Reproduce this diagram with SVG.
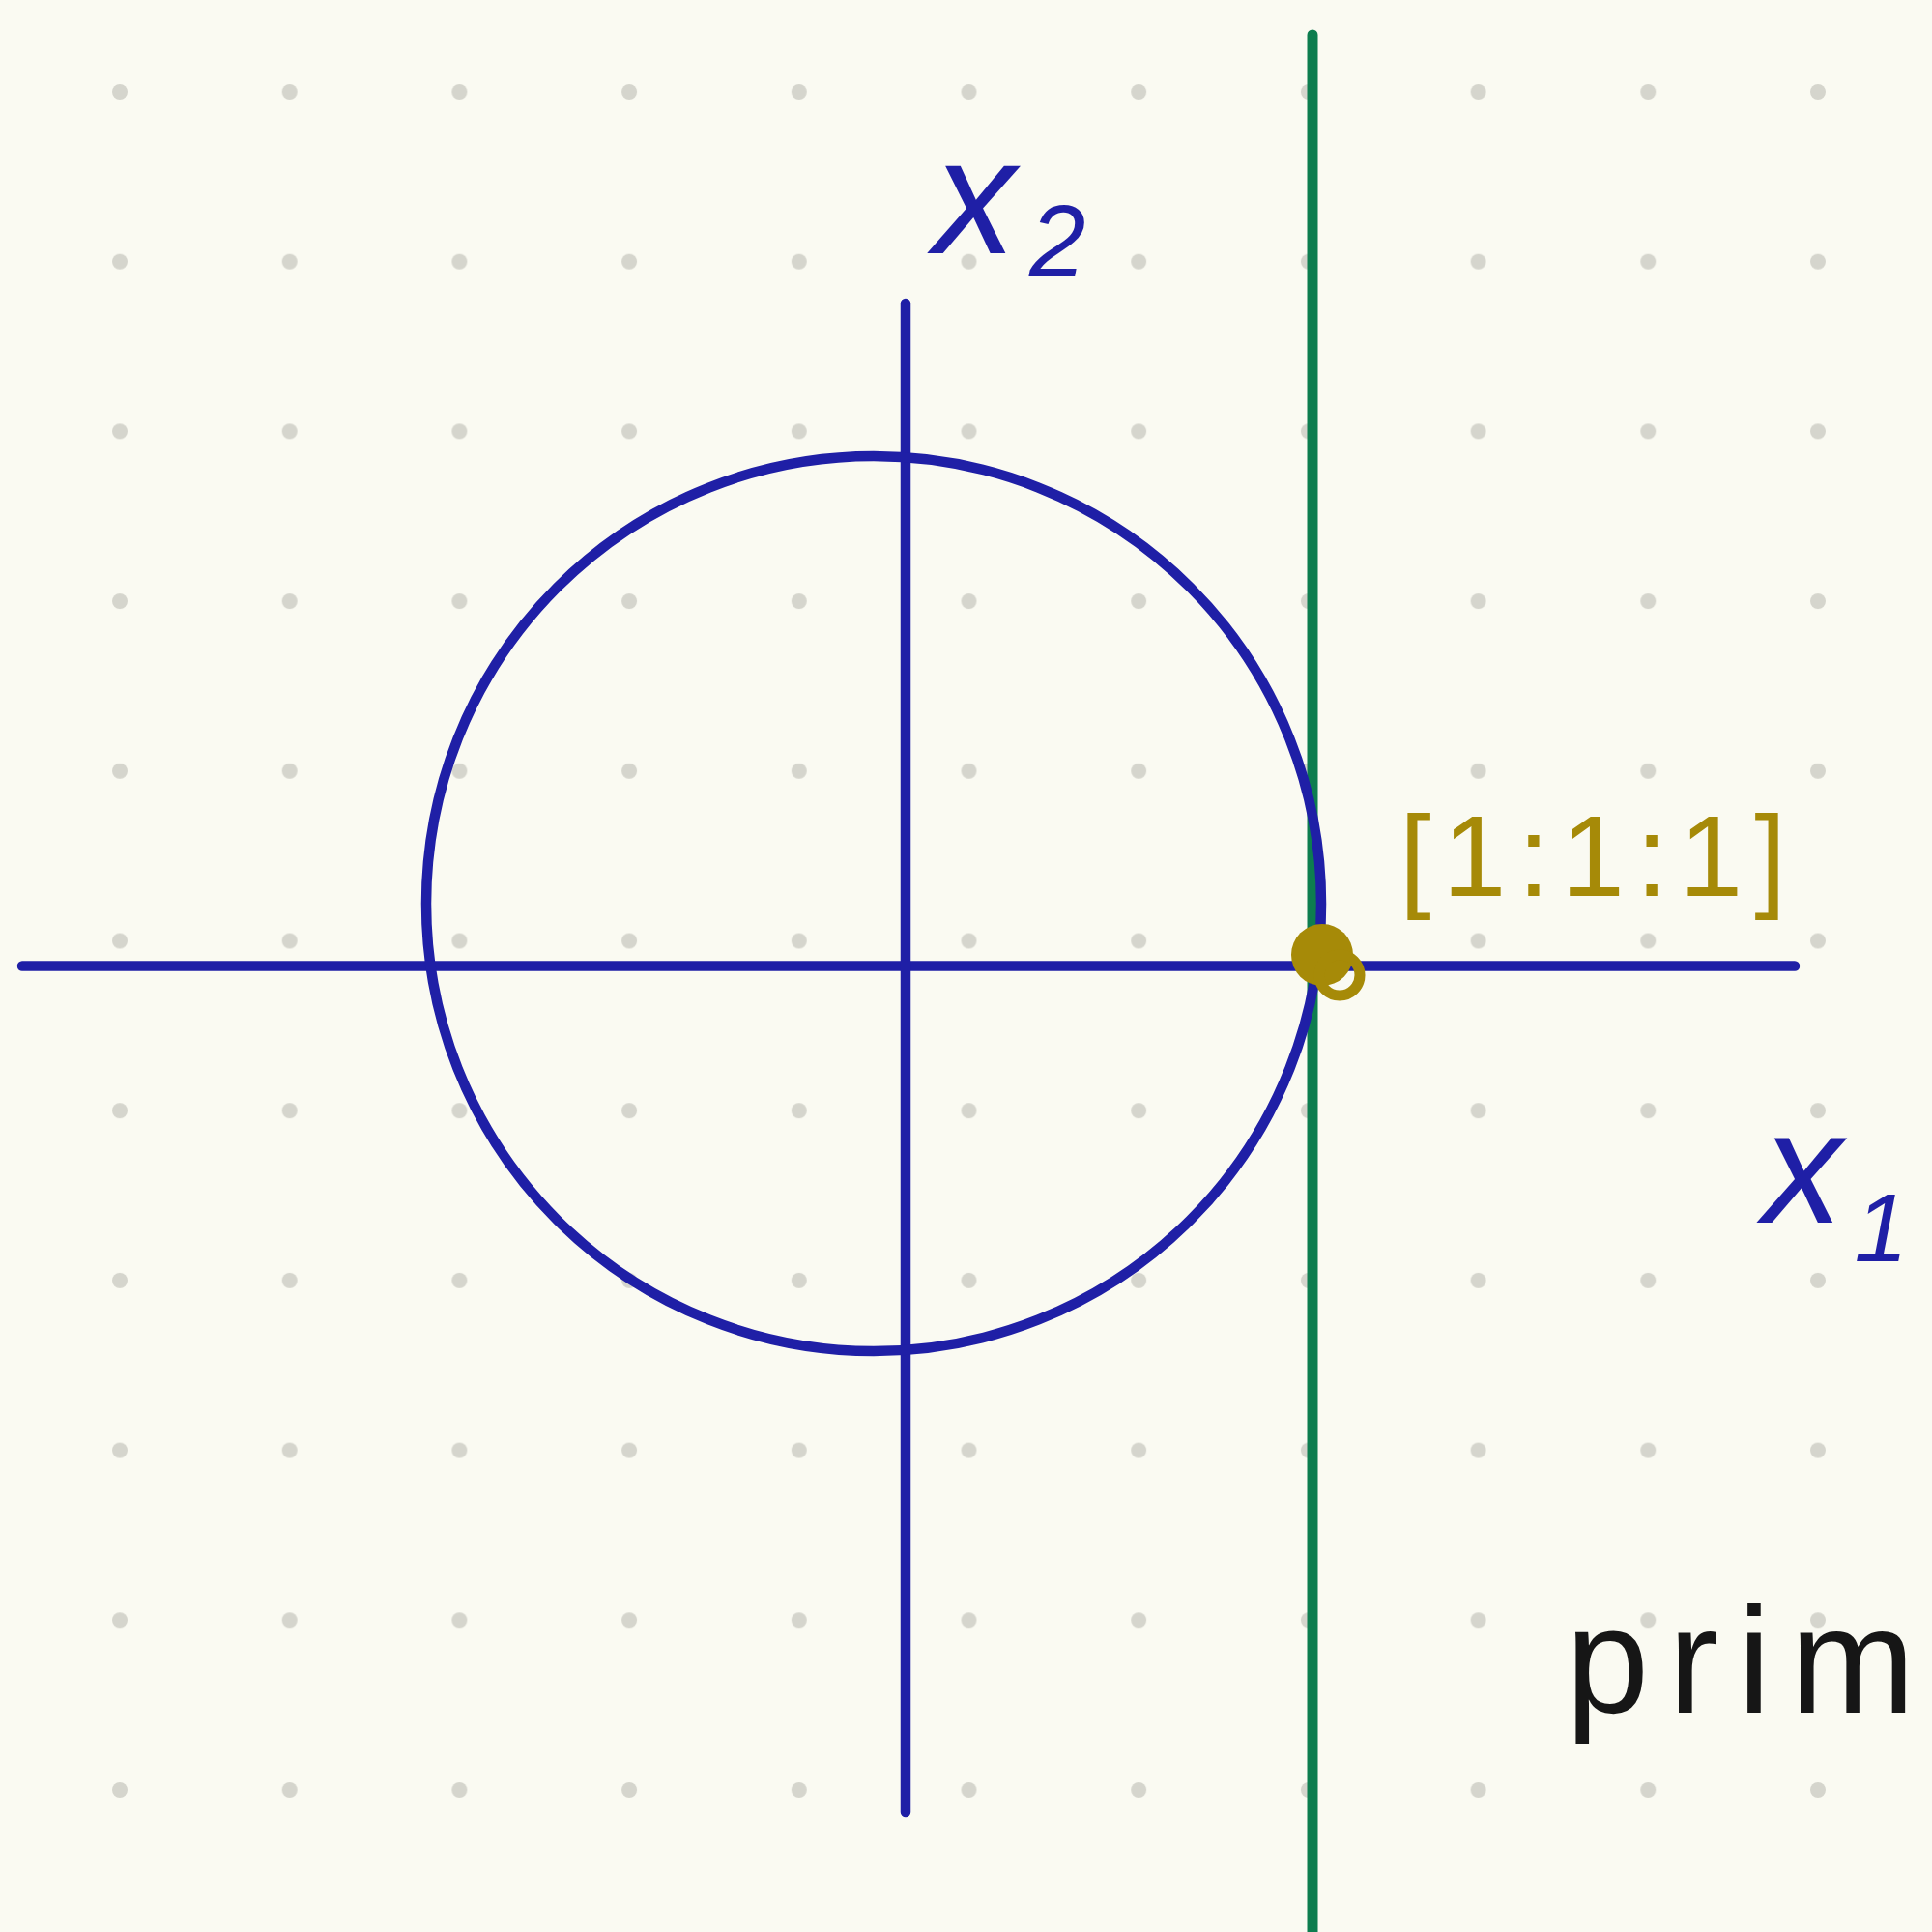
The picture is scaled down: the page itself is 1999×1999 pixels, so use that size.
<svg xmlns="http://www.w3.org/2000/svg" width="1999" height="1999" viewBox="0 0 1999 1999">
  <defs>
    <style>
      .dot { fill: #d5d5cd; }
      .blue { stroke: #1f1fa6; stroke-width: 10.5; stroke-linecap: round; fill: none; }
      .green { stroke: #0d7d4f; stroke-width: 11; stroke-linecap: round; fill: none; }
      .gold { fill: #a68a08; }
      .lbl-blue { fill: #1f1fa6; font-family: "Liberation Sans", "DejaVu Sans", sans-serif; font-style: italic; }
      .lbl-gold { fill: #a68a08; font-family: "Liberation Sans", "DejaVu Sans", sans-serif; }
      .lbl-black { fill: #161616; font-family: "Liberation Sans", "DejaVu Sans", sans-serif; }
    </style>
    <pattern id="dots" x="124" y="95" width="175.7" height="175.7" patternUnits="userSpaceOnUse">
      <circle cx="0" cy="0" r="8" class="dot"/>
      <circle cx="175.7" cy="0" r="8" class="dot"/>
      <circle cx="0" cy="175.7" r="8" class="dot"/>
      <circle cx="175.7" cy="175.7" r="8" class="dot"/>
    </pattern>
  </defs>
  <rect x="0" y="0" width="1999" height="1999" fill="#fafaf2"/>
  <rect x="110" y="80" width="1780" height="1790" fill="url(#dots)"/>

  <g id="connectors">
    <line id="x-axis" class="blue" x1="23" y1="999.5" x2="1857" y2="999.5"/>
    <line id="y-axis" class="blue" x1="937" y1="314" x2="937" y2="1875"/>
    <line id="tangent-line" class="green" x1="1358" y1="36" x2="1358" y2="2010"/>
  </g>

  <g id="unit-circle">
    <circle class="blue" cx="904" cy="935" r="463"/>
  </g>

  <g id="point">
    <circle cx="1368" cy="988" r="32" class="gold"/>
    <circle cx="1386" cy="1009" r="21" fill="none" stroke="#a68a08" stroke-width="11"/>
  </g>

  <g id="label-point">
    <text class="lbl-gold" x="1448" y="927" font-size="118" letter-spacing="12">[1:1:1]</text>
  </g>

  <g id="label-x2">
    <text class="lbl-blue" x="966" y="262" font-size="170">x<tspan font-size="105" dx="14" dy="24">2</tspan></text>
  </g>

  <g id="label-x1">
    <text class="lbl-blue" x="1824" y="1265" font-size="165">x<tspan font-size="100" dx="12" dy="40">1</tspan></text>
  </g>

  <g id="label-prim">
    <text class="lbl-black" x="1620" y="1772" font-size="155" letter-spacing="20">prim</text>
  </g>
</svg>
